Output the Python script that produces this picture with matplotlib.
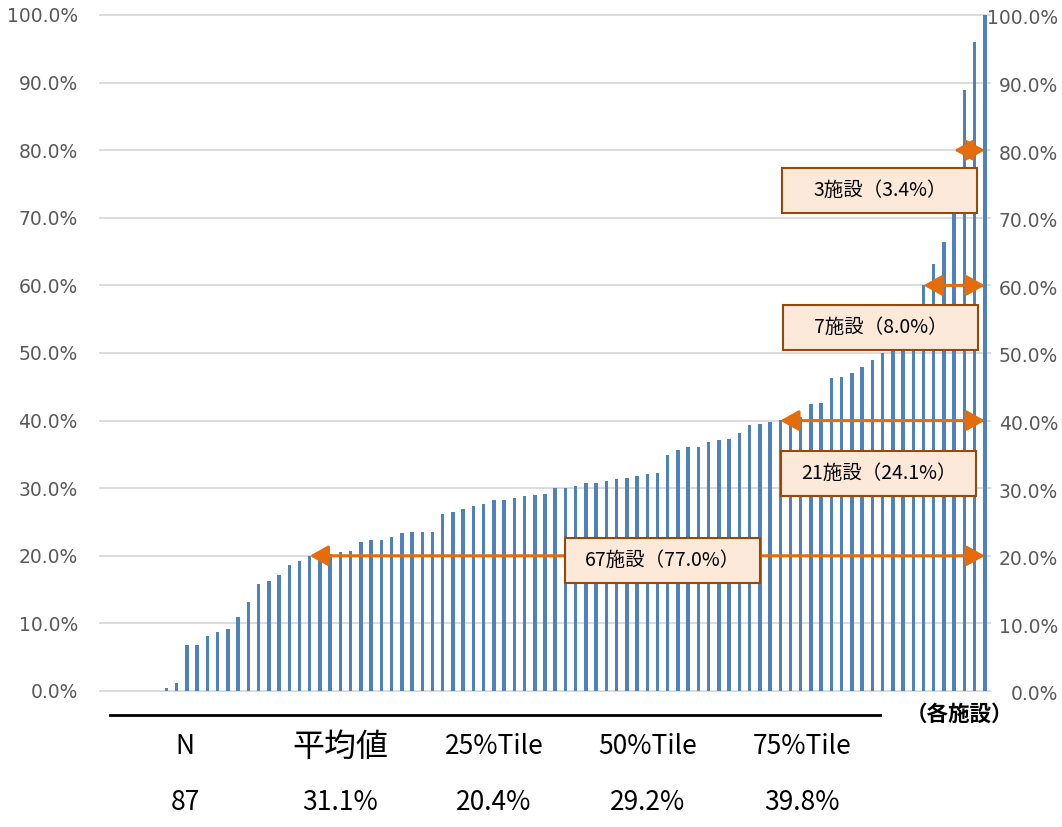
import matplotlib
matplotlib.use("Agg")
import matplotlib.pyplot as plt
import numpy as np
from matplotlib.lines import Line2D
from matplotlib.patches import FancyArrowPatch, Rectangle
from matplotlib.transforms import ScaledTranslation, blended_transform_factory

plt.rcParams["font.family"] = ["DejaVu Sans", "Noto Sans CJK JP"]
CJK = ["Noto Sans CJK JP", "DejaVu Sans"]

# ratio per facility (%), sorted ascending
rates = [
    0.0, 0.0, 0.0, 0.0, 0.0, 0.0, 0.4, 1.2, 6.8, 6.8,
    8.1, 8.8, 9.1, 10.9, 13.2, 15.9, 16.2, 17.2, 18.7, 19.2,
    20.0, 20.2, 20.3, 20.5, 20.7, 22.0, 22.3, 22.4, 22.8, 23.3,
    23.5, 23.5, 23.5, 26.2, 26.5, 26.9, 27.3, 27.7, 28.3, 28.3,
    28.6, 28.8, 29.0, 29.1, 30.1, 30.1, 30.3, 30.7, 30.7, 31.1,
    31.3, 31.5, 31.8, 32.1, 32.3, 34.9, 35.7, 36.1, 36.1, 36.8,
    37.2, 37.3, 38.2, 39.4, 39.5, 39.8, 40.1, 40.2, 40.6, 42.5,
    42.6, 46.3, 46.4, 47.0, 47.9, 48.9, 50.0, 50.8, 52.0, 54.0,
    60.0, 63.1, 66.4, 72.0, 88.9, 96.0, 100.0,
]
thresholds = [20, 40, 60, 80]
# label box placement for each threshold: (left bar index, bottom %)
box_anchor = [(45.0, 16.0), (66.1, 28.8), (66.3, 50.4), (66.2, 70.7)]

stat_names = ["N", "平均値", "25%Tile", "50%Tile", "75%Tile"]
stat_values = ["87", "31.1%", "20.4%", "29.2%", "39.8%"]

BLUE = "#4f81bd"
ORANGE = "#e46c0a"
GRID = "#d9d9d9"
TICK = "#595959"

W, H = 1062, 827
fig = plt.figure(figsize=(W / 100, H / 100), dpi=100)
ax = fig.add_axes([100 / W, (H - 691) / H, 890 / W, 676 / H])

vals = np.array(rates)
x = np.arange(len(vals))
ax.bar(x, vals, width=0.34, color=BLUE, zorder=2)
ax.set_xlim(-0.5, len(vals) - 0.5)
ax.set_ylim(0, 100)

ticks = np.arange(0, 101, 10)
ax.set_yticks(ticks)
ax.set_yticklabels([f"{t:.1f}%" for t in ticks])
ax.tick_params(axis="y", length=0, pad=16, labelsize=13.5, labelcolor=TICK)
ax.set_xticks([])
ax.grid(axis="y", color=GRID, linewidth=1.3, zorder=0)
for line in ax.get_ygridlines():
    line.set_clip_on(False)
for s in ax.spines.values():
    s.set_visible(False)

# right-hand labels, right aligned at the figure edge
rtrans = blended_transform_factory(fig.transFigure, ax.transData) + ScaledTranslation(
    0, -4 / 100, fig.dpi_scale_trans
)
for t in ticks:
    ax.text(1058 / W, t, f"{t:.1f}%", transform=rtrans, ha="right", va="center",
            fontsize=13.5, color=TICK, clip_on=False)

n = len(vals)
last = n - 1
for t, (bx, by) in zip(thresholds, box_anchor):
    count = int((vals >= t).sum())
    first = int(np.argmax(vals >= t))
    left = min(first, last - 3)
    arrow = FancyArrowPatch(
        (left, t), (last, t),
        arrowstyle="<|-|>,head_length=0.75,head_width=0.42",
        mutation_scale=15, color=ORANGE, linewidth=2.2,
        shrinkA=0, shrinkB=0, zorder=4, clip_on=False,
    )
    ax.add_patch(arrow)
    ax.add_patch(Rectangle((bx, by), 19.06, 6.7, facecolor="#fde9d9",
                           edgecolor="#984807", linewidth=1.5, zorder=5))
    ax.text(bx + 9.53, by + 3.35, f"{count}施設（{count / n * 100:.1f}%）",
            ha="center", va="center", fontsize=14, family=CJK, zorder=6)

# summary table under the chart
fig.add_artist(Line2D([110 / W, 880 / W], [(H - 715) / H] * 2,
                      color="black", linewidth=2))
fig.text(960 / W, (H - 714) / H, "（各施設）", ha="center", va="center",
         fontsize=15.5, fontweight="bold", family=CJK)
cols = [185, 340, 494, 648, 802]
for cx, name, val in zip(cols, stat_names, stat_values):
    fs = 23 if name == "平均値" else 19
    fig.text(cx / W, (H - 747) / H, name, ha="center", va="center",
             fontsize=fs, family=CJK)
    fig.text(cx / W, (H - 803) / H, val, ha="center", va="center",
             fontsize=19, family=CJK)

fig.savefig("out.png", dpi=100, facecolor="white")
